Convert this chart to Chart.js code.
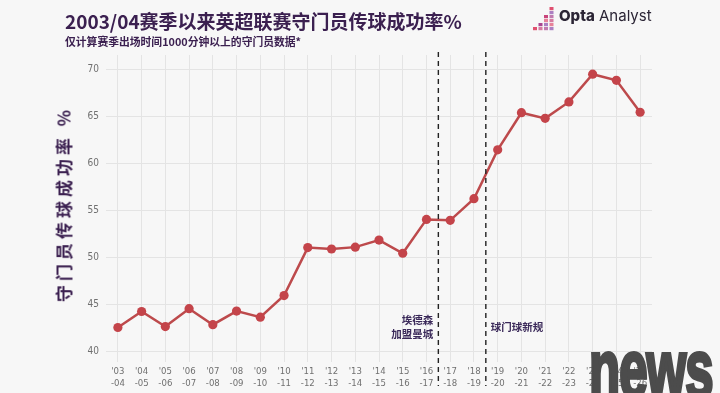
<!DOCTYPE html>
<html>
<head>
<meta charset="utf-8">
<script src="https://cdn.jsdelivr.net/npm/chart.js@4.4.1/dist/chart.umd.min.js"></script>
<style>
    body { margin: 0; background: #f7f7f7; }
    #wrap { position: relative; width: 720px; height: 393px; overflow: hidden; background: #f7f7f7; font-family: "Noto Sans CJK SC", "Noto Sans", sans-serif; }
    #titulo { position: absolute; left: 65px; top: 7px; font-size: 19px; font-weight: bold; color: #3b2050; white-space: nowrap; }
    #subtitulo { position: absolute; left: 65px; top: 33px; font-size: 10.8px; font-weight: bold; color: #3b2050; white-space: nowrap; }
    #eixoY { position: absolute; left: 63px; top: 204px; transform: translate(-50%, -50%) rotate(-90deg); font-size: 17px; font-weight: bold; color: #3b2050; letter-spacing: 4px; white-space: nowrap; }
    #logo { position: absolute; left: 531px; top: 5px; height: 26px; width: 26px; }
    #logoTexto { position: absolute; left: 559px; top: 6px; font-family: "Inter", "Noto Sans", sans-serif; font-size: 15px; color: #2b2535; white-space: nowrap; }
    #logoTexto b { font-weight: 800; }
    #marca { position: absolute; left: 589px; top: 322px; font-family: "Liberation Sans", sans-serif; font-weight: bold; font-size: 51px; letter-spacing: -1px; transform: scaleY(1.6); transform-origin: left top;
        color: #4c4c4c; -webkit-text-stroke: 2.4px #4c4c4c; }
    canvas { position: absolute; left: 0; top: 0; }
</style>
</head>
<body>
<div id="wrap">
    <canvas id="grafico" width="720" height="393"></canvas>
    <div id="titulo">2003/04赛季以来英超联赛守门员传球成功率%</div>
    <div id="subtitulo">仅计算赛季出场时间1000分钟以上的守门员数据*</div>
    <div id="eixoY">守门员传球成功率 %</div>
    <canvas id="logo" width="26" height="26"></canvas>
    <div id="logoTexto"><b>Opta</b> Analyst</div>
    <div id="marca">news</div>
</div>
<script>
// dados
var temporadas = ["'03-04", "'04-05", "'05-06", "'06-07", "'07-08", "'08-09", "'09-10", "'10-11", "'11-12", "'12-13", "'13-14", "'14-15",
    "'15-16", "'16-17", "'17-18", "'18-19", "'19-20", "'20-21", "'21-22", "'22-23", "'23-24", "'24-25", "'25-26"];
var taxaPasse = [42.5, 44.2, 42.6, 44.5, 42.8, 44.25, 43.6, 45.9, 51.0, 50.85, 51.05, 51.8,
    50.4, 54.0, 53.9, 56.2, 61.4, 65.35, 64.75, 66.5, 69.45, 68.8, 65.4];
var ticksY = [40, 45, 50, 55, 60, 65, 70];

// marcos verticais (entre duas temporadas)
var marcos = [
    { depois: "'16-17", texto: ["埃德森", "加盟曼城"], lado: 'esquerda' },
    { depois: "'18-19", texto: ["球门球新规"], lado: 'direita' }
];

// logo em quadradinhos
function desenharLogo() {
    var c = document.getElementById('logo').getContext('2d');
    var cores = ['#e05070', '#c8457c', '#a94690', '#8a4bab'];
    var colunas = [1, 2, 4, 6];
    for (var i = 0; i < colunas.length; i++) {
        for (var j = 0; j < colunas[i]; j++) {
            c.fillStyle = cores[(i + j) % cores.length];
            c.globalAlpha = j === colunas[i] - 1 ? 1 : 0.7;
            c.fillRect(2 + i * 5.5, 22 - j * 4, 4, 3.2);
        }
    }
}

var pluginMarcos = {
    id: 'marcos',
    afterDatasetsDraw: function (chart) {
        var ctx = chart.ctx;
        var x = chart.scales.x;
        ctx.save();
        for (var i = 0; i < marcos.length; i++) {
            var idx = temporadas.indexOf(marcos[i].depois);
            var px = (x.getPixelForValue(idx) + x.getPixelForValue(idx + 1)) / 2;
            ctx.strokeStyle = '#222';
            ctx.lineWidth = 1.4;
            ctx.setLineDash([5, 4]);
            ctx.beginPath();
            ctx.moveTo(px, 52);
            ctx.lineTo(px, 386);
            ctx.stroke();

            ctx.fillStyle = '#3b2a5a';
            ctx.font = 'bold 10.5px "Noto Sans CJK SC"';
            ctx.textBaseline = 'middle';
            var linhas = marcos[i].texto;
            var y0 = linhas.length > 1 ? 320 : 327;
            for (var k = 0; k < linhas.length; k++) {
                if (marcos[i].lado === 'esquerda') {
                    ctx.textAlign = 'right';
                    ctx.fillText(linhas[k], px - 5, y0 + k * 14);
                } else {
                    ctx.textAlign = 'left';
                    ctx.fillText(linhas[k], px + 5, y0 + k * 14);
                }
            }
        }
        ctx.restore();
    }
};

function criarGrafico() {
    var ctx = document.getElementById('grafico').getContext('2d');
    new Chart(ctx, {
        type: 'line',
        data: {
            labels: temporadas.map(function (t) { return [t.slice(0, 3), t.slice(3)]; }),
            datasets: [{
                data: taxaPasse,
                borderColor: '#bd4a4c',
                borderWidth: 2.5,
                pointRadius: 4.6,
                pointBackgroundColor: '#c4444a',
                pointBorderColor: '#c4444a',
                pointBorderWidth: 0,
                tension: 0
            }]
        },
        options: {
            responsive: false,
            animation: false,
            layout: { padding: { top: 55, right: 68, left: 0, bottom: 0 } },
            plugins: { legend: { display: false }, tooltip: { enabled: false } },
            scales: {
                x: {
                    offset: true,
                    afterFit: function (s) { s.height = 31; },
                    border: { display: false },
                    grid: { color: '#e4e4e4', lineWidth: 1, drawTicks: false, offset: false },
                    ticks: {
                        color: '#707070',
                        padding: 4,
                        maxRotation: 0,
                        autoSkip: false,
                        font: { family: 'DejaVu Sans Condensed, DejaVu Sans', size: 9.5 }
                    }
                },
                y: {
                    min: 38.83,
                    max: 71.49,
                    afterFit: function (s) { s.width = 106; },
                    afterBuildTicks: function (s) { s.ticks = ticksY.map(function (v) { return { value: v }; }); },
                    border: { display: false },
                    grid: { color: '#e4e4e4', lineWidth: 1, drawTicks: false },
                    ticks: {
                        color: '#707070',
                        padding: 7,
                        font: { family: 'DejaVu Sans Condensed, DejaVu Sans', size: 10 }
                    }
                }
            }
        },
        plugins: [pluginMarcos]
    });
}

desenharLogo();
criarGrafico();
</script>
</body>
</html>
